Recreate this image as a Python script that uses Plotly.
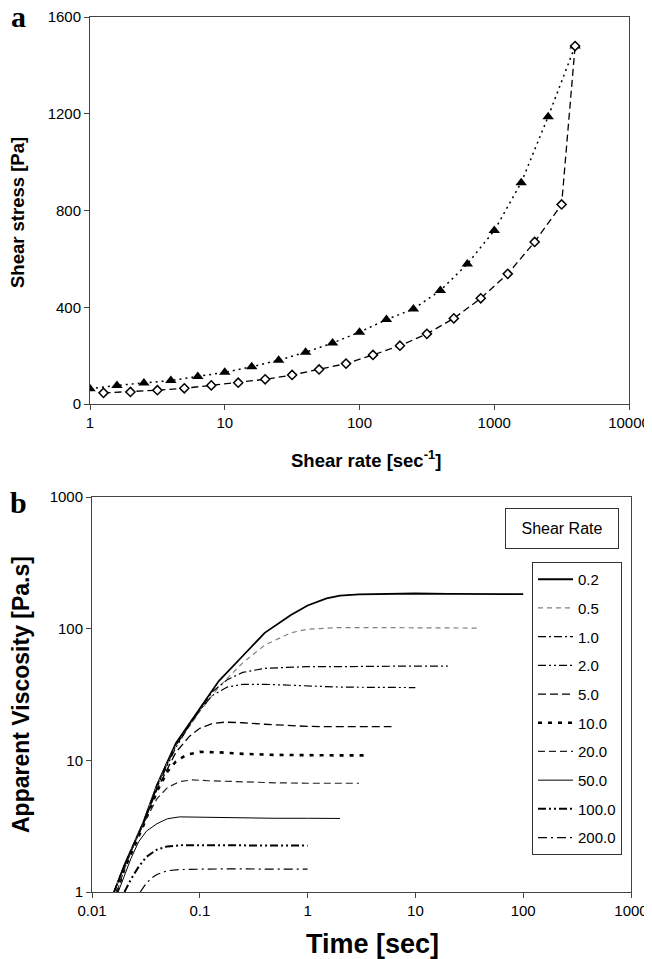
import plotly.graph_objects as go

W, H = 652, 959
OFF = 8  # page body margin offset in the browser

# ---------------- Panel a data ----------------
rate_tri = [1, 1.585, 2.512, 3.981, 6.31, 10, 15.85, 25.12, 39.81, 63.1, 100,
            158.5, 251.2, 398.1, 631, 1000, 1585, 2512, 3981]
stress_tri = [63, 77, 87, 97, 114, 131, 154, 181, 214, 252, 297,
              349, 393, 469, 579, 717, 915, 1188, 1480]
rate_dia = [1.259, 1.995, 3.162, 5.012, 7.943, 12.59, 19.95, 31.62, 50.12, 79.43,
            125.9, 199.5, 316.2, 501.2, 794.3, 1259, 1995, 3162, 3981]
stress_dia = [46, 50, 57, 65, 77, 88, 102, 120, 143, 167,
              203, 241, 290, 354, 437, 538, 670, 825, 1480]
a_xticks = [1, 10, 100, 1000, 10000]
a_xtext = ["1", "10", "100", "1000", "10000"]
a_yticks = [0, 400, 800, 1200, 1600]
a_ytext = ["0", "400", "800", "1200", "1600"]

# ---------------- Panel b data ----------------
t_02 = [0.016, 0.02, 0.03, 0.04, 0.06, 0.1, 0.15, 0.25, 0.4, 0.7, 1.0, 1.5, 2, 3, 5, 10, 20, 50, 100]
v_02 = [1, 1.6, 3.4, 6.5, 13.5, 25, 40, 62, 93, 127, 150, 170, 178, 182, 184, 185, 184, 183, 183]
t_05 = [0.016, 0.02, 0.03, 0.04, 0.06, 0.1, 0.15, 0.25, 0.4, 0.7, 1, 1.5, 2, 3, 5, 10, 20, 40]
v_05 = [1, 1.6, 3.4, 6.4, 13, 23.5, 36, 55, 75, 93, 99, 101.5, 102, 102, 102, 101, 101, 101]
t_1 = [0.016, 0.02, 0.03, 0.04, 0.06, 0.1, 0.13, 0.18, 0.25, 0.4, 0.7, 1, 2, 5, 10, 20]
v_1 = [1, 1.6, 3.4, 6.4, 13, 24, 33, 41, 46.5, 50, 51, 51.5, 51.5, 52, 52, 52]
t_2 = [0.016, 0.02, 0.03, 0.04, 0.06, 0.08, 0.1, 0.13, 0.18, 0.25, 0.4, 0.7, 1, 2, 5, 10]
v_2 = [1, 1.6, 3.3, 6.2, 12.5, 18.5, 24, 31, 36, 37.8, 37.8, 37, 36.5, 36, 35.8, 35.7]
t_5 = [0.016, 0.02, 0.03, 0.04, 0.06, 0.08, 0.1, 0.13, 0.17, 0.25, 0.4, 0.7, 1, 2, 4, 6]
v_5 = [1, 1.6, 3.3, 6.0, 11.5, 15.2, 17.5, 19.0, 19.5, 19.3, 18.8, 18.3, 18.1, 18.0, 18.0, 18.0]
t_10 = [0.017, 0.02, 0.03, 0.04, 0.05, 0.06, 0.075, 0.1, 0.15, 0.25, 0.5, 1, 2, 3.5]
v_10 = [1, 1.5, 3.2, 5.8, 8.2, 9.8, 11.0, 11.6, 11.5, 11.2, 11.0, 10.9, 10.9, 10.9]
t_20 = [0.017, 0.02, 0.025, 0.03, 0.04, 0.05, 0.065, 0.085, 0.12, 0.2, 0.5, 1, 2, 3]
v_20 = [1, 1.5, 2.4, 3.3, 5.1, 6.2, 6.9, 7.1, 7.0, 6.9, 6.75, 6.7, 6.7, 6.7]
t_50 = [0.0175, 0.02, 0.023, 0.027, 0.032, 0.04, 0.05, 0.065, 0.1, 0.2, 0.5, 1, 2]
v_50 = [1, 1.35, 1.8, 2.4, 2.9, 3.3, 3.6, 3.72, 3.7, 3.65, 3.63, 3.63, 3.62]
t_100 = [0.02, 0.023, 0.027, 0.032, 0.04, 0.05, 0.07, 0.1, 0.2, 0.5, 1]
v_100 = [1, 1.25, 1.55, 1.85, 2.1, 2.22, 2.27, 2.27, 2.27, 2.27, 2.25]
t_200 = [0.028, 0.032, 0.036, 0.04, 0.05, 0.065, 0.1, 0.2, 0.5, 1]
v_200 = [1, 1.17, 1.28, 1.36, 1.45, 1.48, 1.49, 1.5, 1.49, 1.49]

rate_labels = ["0.2", "0.5", "1.0", "2.0", "5.0", "10.0", "20.0", "50.0", "100.0", "200.0"]
b_xticks = [0.01, 0.1, 1, 10, 100, 1000]
b_xtext = ["0.01", "0.1", "1", "10", "100", "1000"]
b_yticks = [1, 10, 100, 1000]
b_ytext = ["1", "10", "100", "1000"]

curves = [(t_02, v_02), (t_05, v_05), (t_1, v_1), (t_2, v_2), (t_5, v_5),
          (t_10, v_10), (t_20, v_20), (t_50, v_50), (t_100, v_100), (t_200, v_200)]
styles = [
    dict(color="black", width=1.8, dash="solid"),
    dict(color="#808080", width=1.2, dash="5px,4px"),
    dict(color="black", width=1.2, dash="8px,3px,2px,3px"),
    dict(color="black", width=1.2, dash="8px,3px,2px,3px,2px,3px"),
    dict(color="black", width=1.3, dash="8px,4px"),
    dict(color="black", width=2.6, dash="4px,6px"),
    dict(color="#222", width=1.2, dash="7px,4px"),
    dict(color="black", width=1.0, dash="solid"),
    dict(color="black", width=2.0, dash="8px,3px,2px,3px,2px,3px"),
    dict(color="black", width=1.2, dash="9px,4px,2px,4px"),
]


def px(x):
    return (x - OFF) / W


def py(y):
    return 1 - (y - OFF) / H


fig = go.Figure()

# Panel a
fig.add_trace(go.Scatter(x=rate_tri, y=stress_tri, mode="lines+markers",
                         line=dict(color="black", width=1.5, dash="2px,4px"),
                         marker=dict(symbol="triangle-up", size=10, color="black"),
                         xaxis="x", yaxis="y", showlegend=False))
fig.add_trace(go.Scatter(x=rate_dia, y=stress_dia, mode="lines+markers",
                         line=dict(color="black", width=1.3, dash="7px,4px"),
                         marker=dict(symbol="diamond", size=7, color="white",
                                     line=dict(color="black", width=1.5)),
                         xaxis="x", yaxis="y", showlegend=False))

# Panel b
for i, ((tt, vv), lab, st) in enumerate(zip(curves, rate_labels, styles)):
    fig.add_trace(go.Scatter(x=tt, y=vv, mode="lines", name=lab, line=st,
                             xaxis="x2", yaxis="y2", legendgroup="g%d" % i))

tickfont = dict(family="Liberation Sans, Arial", size=15, color="black")
axcommon = dict(showgrid=False, zeroline=False, showline=True, linecolor="#444",
                linewidth=1, mirror=True, ticks="outside", ticklen=5,
                tickcolor="#444", tickfont=tickfont, automargin=False,
                tickmode="array")

fig.update_layout(
    template="none",
    width=W, height=H,
    margin=dict(l=0, r=0, t=0, b=0, pad=0, autoexpand=False),
    font=dict(family="Liberation Sans, Arial", color="black"),
    paper_bgcolor="white", plot_bgcolor="white",
    xaxis=dict(type="log", range=[0, 4], domain=[px(90), px(629)],
               tickvals=a_xticks, ticktext=a_xtext, anchor="y", **axcommon),
    yaxis=dict(range=[0, 1600], domain=[py(404), py(17)], tickvals=a_yticks,
               ticktext=a_ytext, anchor="x", **axcommon),
    xaxis2=dict(type="log", range=[-2, 3], domain=[px(92), px(631)],
                tickvals=b_xticks, ticktext=b_xtext, anchor="y2", **axcommon),
    yaxis2=dict(type="log", range=[0, 3], domain=[py(892), py(497)],
                tickvals=b_yticks, ticktext=b_ytext, anchor="x2", **axcommon),
    showlegend=True,
    legend=dict(x=px(532), y=py(562), xanchor="left", yanchor="top",
                bordercolor="#333", borderwidth=1, bgcolor="white",
                font=dict(family="Liberation Sans, Arial", size=15, color="black"),
                traceorder="grouped", tracegroupgap=6.2, itemwidth=35),
)

bold = dict(family="Liberation Sans, Arial", color="black")
ann = [
    dict(x=px(18), y=py(17), text="<b>a</b>",
         font=dict(family="Liberation Serif, Times New Roman", size=30, color="black")),
    dict(x=px(18), y=py(502), text="<b>b</b>",
         font=dict(family="Liberation Serif, Times New Roman", size=30, color="black")),
    dict(x=px(18), y=py(213), text="<b>Shear stress [Pa]</b>", textangle=-90,
         font=dict(size=18.5, **bold)),
    dict(x=px(366), y=py(459), text="<b>Shear rate [sec<sup>-1</sup>]</b>",
         font=dict(size=18.5, **bold)),
    dict(x=px(21), y=py(695), text="<b>Apparent Viscosity [Pa.s]</b>", textangle=-90,
         font=dict(size=23, **bold)),
    dict(x=px(372), y=py(944), text="<b>Time [sec]</b>",
         font=dict(size=27, **bold)),
    dict(x=px(562), y=py(528.5), text="Shear Rate", width=110, height=37,
         bordercolor="#333", borderwidth=1, borderpad=1, bgcolor="white",
         font=dict(family="Liberation Sans, Arial", size=16, color="black")),
]
for a in ann:
    a.update(xref="paper", yref="paper", showarrow=False, xanchor="center", yanchor="middle")
fig.update_layout(annotations=ann)

fig.write_html("out.html")
